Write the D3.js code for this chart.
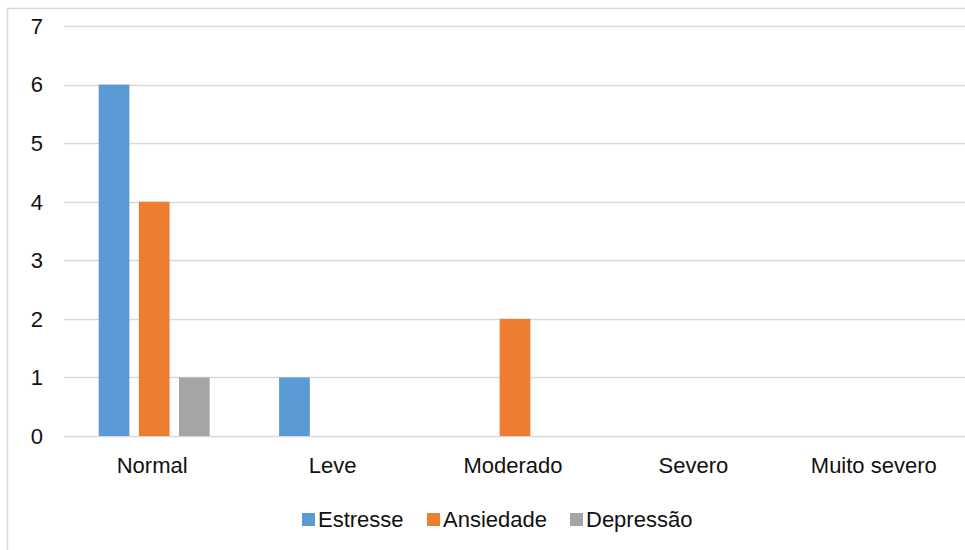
<!DOCTYPE html>
<html>
<head>
<meta charset="utf-8">
<script src="https://cdn.jsdelivr.net/npm/d3@7"></script>
<style>
  body { margin: 0; background: #fff; }
  text { font-family: "Liberation Sans", Arial, sans-serif; }
</style>
</head>
<body>
<div id="chart"></div>
<script>
const categories = ["Normal", "Leve", "Moderado", "Severo", "Muito severo"];
const seriesNames = ["Estresse", "Ansiedade", "Depressão"];
const estresse = [6, 1, 0, 0, 0];
const ansiedade = [4, 0, 2, 0, 0];
const depressao = [1, 0, 0, 0, 0];
const yTicks = [0, 1, 2, 3, 4, 5, 6, 7];
const colors = ["#5b9bd5", "#ed7d31", "#a5a5a5"];

const width = 965, height = 550;
const plotLeft = 64, plotRight = 966, plotTop = 26, plotBottom = 436;
const fontSize = "22px";

const svg = d3.select("#chart").append("svg")
    .attr("width", width)
    .attr("height", height);

// chart border
svg.append("rect")
    .attr("x", 7.5).attr("y", 8.5)
    .attr("width", 1000).attr("height", 600)
    .attr("fill", "none")
    .attr("stroke", "#d9d9d9")
    .attr("stroke-width", 1.5);

const xscale = d3.scaleBand()
    .domain(categories)
    .range([plotLeft, plotRight]);

const yscale = d3.scaleLinear()
    .domain([0, 7])
    .range([plotBottom, plotTop]);

const groupWidth = 111;
const xsub = d3.scaleBand()
    .domain(seriesNames)
    .range([0, groupWidth])
    .paddingInner(0.235);

// gridlines
svg.append("g")
    .selectAll("line")
    .data(yTicks)
    .enter()
    .append("line")
    .attr("x1", plotLeft)
    .attr("x2", width)
    .attr("y1", d => Math.round(yscale(d)) + 0.5)
    .attr("y2", d => Math.round(yscale(d)) + 0.5)
    .attr("stroke", "#d9d9d9")
    .attr("stroke-width", 1.3);

// y labels
svg.append("g")
    .selectAll("text")
    .data(yTicks)
    .enter()
    .append("text")
    .attr("x", 43)
    .attr("y", d => yscale(d))
    .attr("dy", "0.36em")
    .attr("text-anchor", "end")
    .style("font-size", fontSize)
    .style("fill", "#111")
    .text(d => d);

// x labels
svg.append("g")
    .selectAll("text")
    .data(categories)
    .enter()
    .append("text")
    .attr("x", d => xscale(d) + xscale.bandwidth() / 2 - 2)
    .attr("y", 473)
    .attr("text-anchor", "middle")
    .style("font-size", fontSize)
    .style("fill", "#111")
    .text(d => d);

// bars
const rows = categories.map((c, i) => ({
    category: c,
    values: [estresse[i], ansiedade[i], depressao[i]]
}));

const groups = svg.append("g")
    .selectAll("g")
    .data(rows)
    .enter()
    .append("g")
    .attr("transform", d => `translate(${xscale(d.category) + (xscale.bandwidth() - groupWidth) / 2}, 0)`);

groups.selectAll("rect")
    .data(d => d.values.map((v, j) => ({ name: seriesNames[j], value: v, idx: j })))
    .enter()
    .append("rect")
    .attr("x", d => xsub(d.name))
    .attr("y", d => yscale(d.value))
    .attr("width", xsub.bandwidth())
    .attr("height", d => plotBottom - yscale(d.value))
    .attr("fill", d => colors[d.idx]);

// legend
const legendX = [302, 427, 570];
const legend = svg.append("g").attr("class", "legend");
seriesNames.forEach((name, i) => {
    const item = legend.append("g")
        .attr("transform", `translate(${legendX[i]}, 513)`);
    item.append("rect")
        .attr("width", 13)
        .attr("height", 13)
        .attr("fill", colors[i]);
    item.append("text")
        .attr("x", 16)
        .attr("y", 14)
        .style("font-size", fontSize)
        .style("fill", "#111")
        .text(name);
});
</script>
</body>
</html>
